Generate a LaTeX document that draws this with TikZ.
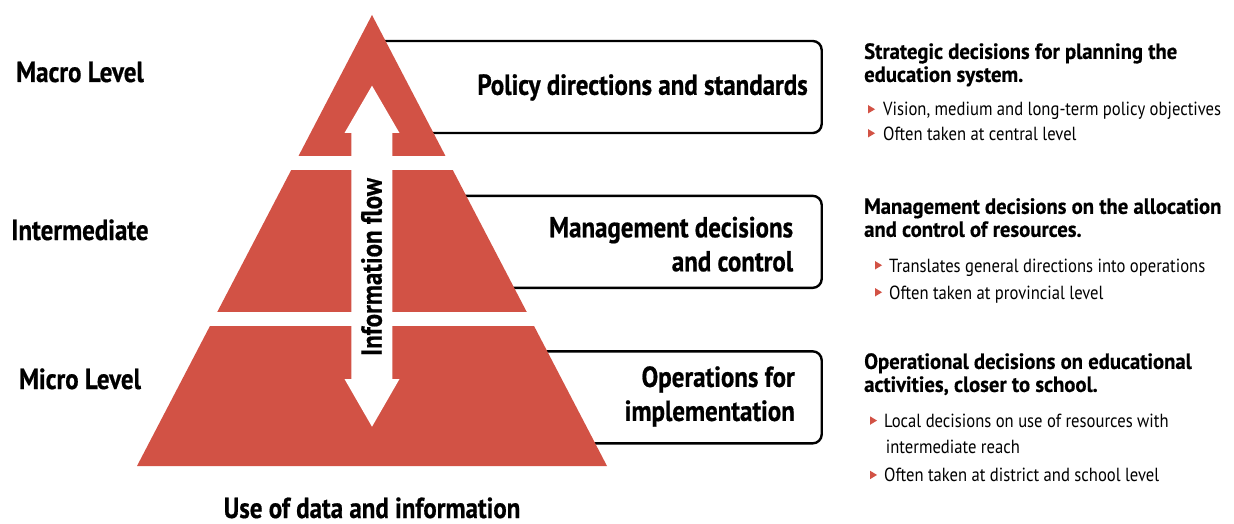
\documentclass[tikz,border=0pt]{standalone}
\usepackage{fontspec}
\setmainfont{PT Sans}[FakeStretch=0.86,BoldFeatures={FakeBold=0.6}]
\newfontfamily\headfont{PT Sans}[FakeStretch=0.94,BoldFeatures={FakeBold=0.5}]
\newfontfamily\listfont{PT Sans}[FakeStretch=0.875]
\definecolor{pyrred}{RGB}{210,82,69}
\begin{document}
\begin{tikzpicture}
[x=1pt,y=-1pt,
  levellabel/.style={font=\fontsize{29}{32}\selectfont\bfseries,anchor=base,inner sep=0pt},%
  levelbox/.style={draw,line width=2.4pt,rounded corners=9pt,fill=white,minimum height=92pt},%
  boxlabel/.style={font=\fontsize{29}{34}\selectfont\bfseries,align=right,anchor=north east,inner sep=0pt},%
  headtext/.style={font=\headfont\fontsize{22}{23}\selectfont\bfseries,align=left,anchor=north west,inner sep=0pt},%
  bullettext/.style={font=\listfont\fontsize{19}{20}\selectfont,anchor=base west,inner sep=0pt}]
\useasboundingbox (0,0) rectangle (1234,524);
%% boxes behind the pyramid
\foreach \boxname/\x/\y/\w in {policy/590.85/87/461.7, manage/600.85/241.85/441.7, oper/610.85/397.35/421.7}
{
  \node[levelbox,minimum width=\w pt] (\boxname) at (\x,\y) {};
}
%% pyramid, cut into three tiers
\fill[pyrred] (372,15) -- (607,466) -- (137,466) -- cycle;
\fill[white] (280,155.7) rectangle (470,170);
\fill[white] (200,311.7) rectangle (545,325.5);
%% information flow arrow
\fill[white] (372,85.7) -- (399.5,133) -- (392.3,133) -- (392.3,379) -- (399.5,379)
  -- (372,426.7) -- (344.5,379) -- (351.3,379) -- (351.3,133) -- (344.5,133) -- cycle;
\node[levellabel,rotate=90] (flow) at (381.7,267) {Information flow};
%% level names
\foreach \name/\y/\txt in {macro/82/Macro Level, inter/240/Intermediate, micro/389/Micro Level}
{
  \node[levellabel] (\name) at (80,\y) {\txt};
}
\node[levellabel] (usedata) at (372,518) {Use of data and information};
%% box texts
\node[boxlabel] (policytext) at (808,74) {Policy directions and standards};
\node[boxlabel] (managetext) at (793.3,216.5) {Management decisions\\and control};
\node[boxlabel] (opertext) at (795,366) {Operations for\\implementation};
%% right column
\node[headtext] (strathead) at (864,43) {Strategic decisions for planning the\\education system.};
\node[headtext] (managehead) at (864,198) {Management decisions on the allocation\\and control of resources.};
\node[headtext] (operhead) at (864,353) {Operational decisions on educational\\activities, closer to school.};
\node[bullettext] (vision) at (883,116) {Vision, medium and long-term policy objectives};
\node[bullettext] (central) at (883,140) {Often taken at central level};
\node[bullettext] (translates) at (889,272) {Translates general directions into operations};
\node[bullettext] (provincial) at (889,299) {Often taken at provincial level};
\node[bullettext] (local) at (884,427.3) {Local decisions on use of resources with};
\node[bullettext] (reach) at (885.7,453.3) {intermediate reach};
\node[bullettext] (district) at (884,481.7) {Often taken at district and school level};
%% bullet marks
\foreach \bx/\by in {868/116, 868/140, 875/272, 875/299, 870/427.3, 870/481.7}
  \fill[pyrred] (\bx,\by-2.5) -- (\bx,\by-11) -- (\bx+7,\by-6.75) -- cycle;
\end{tikzpicture}
\end{document}
